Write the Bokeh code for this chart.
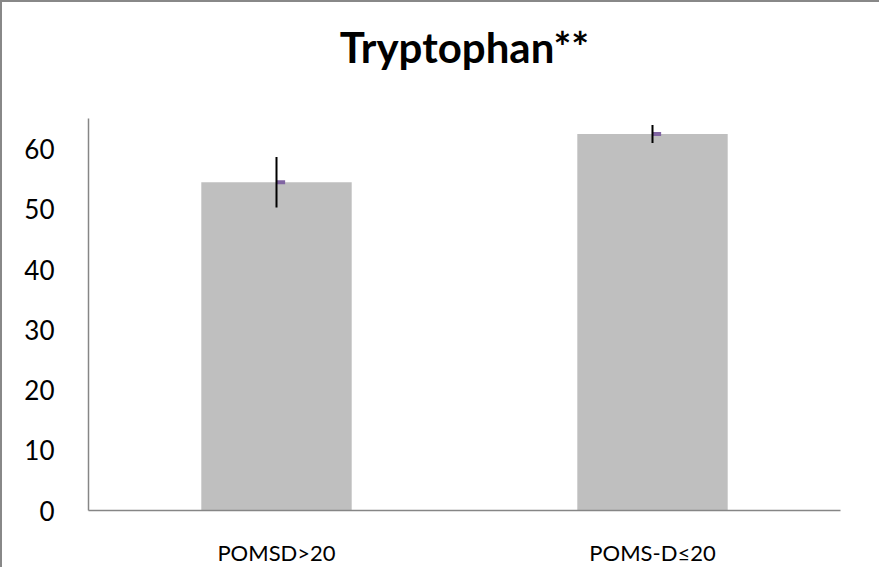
from bokeh.plotting import figure
from bokeh.models import ColumnDataSource, FactorRange, Range1d, Whisker, FixedTicker, Label
from bokeh.embed import file_html
from bokeh.resources import INLINE

title_text = "Tryptophan**"
categories = ["POMSD>20", "POMS-D≤20"]
means = [54.5, 62.5]
errors = [4.2, 1.5]
y_ticks = [0, 10, 20, 30, 40, 50, 60]
axis_max = 65

lower = [m - e for m, e in zip(means, errors)]
upper = [m + e for m, e in zip(means, errors)]
src = ColumnDataSource(data=dict(cat=categories, mean=means, lower=lower, upper=upper,
                                 mark=[(c, 0.011) for c in categories]))

PX_PER_UNIT = 6.0          # 390 px of frame for 65 units
TOP_SPACE_PX = 116         # room above the value axis for the title
y_top = axis_max + TOP_SPACE_PX / PX_PER_UNIT

p = figure(x_range=FactorRange(*categories, range_padding=0), y_range=Range1d(0, y_top),
           width=877, height=565, output_backend="svg", toolbar_location=None,
           min_border_left=86, min_border_right=41, min_border_top=0, min_border_bottom=59)
p.styles = {"border-left": "2px solid #888888", "border-top": "2px solid #888888",
            "border-right": "none", "border-bottom": "none", "box-sizing": "content-box"}

p.vbar(x="cat", top="mean", width=0.4, source=src, fill_color="#BFBFBF", line_color=None)
w = Whisker(base="cat", lower="lower", upper="upper", source=src, line_color="black",
            line_width=2, upper_head=None, lower_head=None, level="overlay")
p.add_layout(w)
p.scatter(x="mark", y="mean", source=src, marker="dash", size=9, line_width=4,
          line_color="#8064A2", fill_color="#8064A2")

title = Label(x=1.0, y=axis_max + 72 / PX_PER_UNIT, text=title_text,
              text_align="center", text_baseline="middle",
              text_font="Lato", text_font_size="42px", text_font_style="bold", text_color="black")
p.add_layout(title)

p.grid.visible = False
p.outline_line_color = None
p.background_fill_color = "white"

p.yaxis.ticker = FixedTicker(ticks=y_ticks)
p.yaxis.bounds = (0, axis_max)
for ax in (p.xaxis[0], p.yaxis[0]):
    ax.axis_line_color = "#868686"
    ax.axis_line_width = 1.5
    ax.major_tick_line_color = None
    ax.minor_tick_line_color = None
    ax.major_label_text_font = "Lato"
    ax.major_label_text_color = "black"
p.yaxis.major_label_text_font_size = "26px"
p.yaxis.major_label_standoff = 28
p.xaxis.major_label_text_font_size = "22px"
p.xaxis.major_label_standoff = 22

open("out.html", "w").write(file_html(p, INLINE))
